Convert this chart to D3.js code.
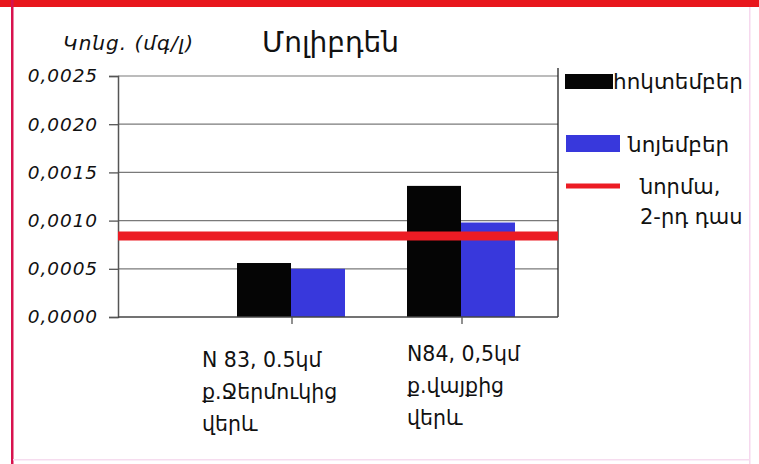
<!DOCTYPE html>
<html>
<head>
<meta charset="utf-8">
<script src="https://cdn.jsdelivr.net/npm/d3@7"></script>
<style>
  html, body { margin: 0; padding: 0; background: #fff; }
  svg { display: block; }
  text { font-family: "DejaVu Sans", sans-serif; fill: #111; }
</style>
</head>
<body>
<svg id="chart" width="759" height="464"></svg>
<script>
// Molybdenum concentration at two river monitoring points
const title = "Մոլիբդեն";
const yTitle = "Կոնց. (մգ/լ)";
const categories = ["N83", "N84"];
const categoryLabels = [
  ["N 83, 0.5կմ", "ք.Ջերմուկից", "վերև"],
  ["N84, 0,5կմ", "ք.վայքից", "վերև"]
];
const seriesNames = ["հոկտեմբեր", "նոյեմբեր"];
const october = [0.00056, 0.00136];
const november = [0.00050, 0.00098];
const norm = 0.00084;
const normLabel = ["նորմա,", "2-րդ դաս"];
const yTicks = [0, 0.0005, 0.0010, 0.0015, 0.0020, 0.0025];

const colors = { oct: "#050505", nov: "#3838dc", norm: "#ec1c24" };

const svg = d3.select("#chart");

// frame
svg.append("rect").attr("x", 0).attr("y", 0).attr("width", 759).attr("height", 7).attr("fill", "#e8161c");
svg.append("rect").attr("x", 11).attr("y", 0).attr("width", 2.5).attr("height", 464).attr("fill", "#d8124e");
svg.append("rect").attr("x", 749).attr("y", 7).attr("width", 1.5).attr("height", 457).attr("fill", "#f6d8ee");
svg.append("rect").attr("x", 13).attr("y", 459).attr("width", 737).attr("height", 1.5).attr("fill", "#f6dcef");

const plot = { left: 118, right: 558, top: 76, bottom: 317 };

const y = d3.scaleLinear().domain([0, 0.0025]).range([plot.bottom, plot.top]);
const x = d3.scaleBand().domain(categories).range([207, 547]);
const sub = d3.scaleBand().domain(["oct", "nov"]).range([x.bandwidth() / 2 - 55, x.bandwidth() / 2 + 53]);

// gridlines
svg.append("g").selectAll("line").data(yTicks.slice(1)).join("line")
  .attr("x1", plot.left).attr("x2", plot.right)
  .attr("y1", d => y(d)).attr("y2", d => y(d))
  .attr("stroke", "#7a7a7a").attr("stroke-width", 1.2);

// right plot edge
svg.append("line").attr("x1", plot.right).attr("x2", plot.right)
  .attr("y1", 68).attr("y2", plot.bottom).attr("stroke", "#222").attr("stroke-width", 1.3);

// y axis
const fmt = d => d3.format(".4f")(d).replace(".", ",");
const yAxis = svg.append("g").attr("transform", `translate(${plot.left},0)`)
  .call(d3.axisLeft(y).tickValues(yTicks).tickFormat(fmt).tickSize(9).tickPadding(11));
yAxis.select(".domain").attr("stroke", "#555").attr("stroke-width", 1.5);
yAxis.selectAll(".tick line").attr("stroke", "#555").attr("stroke-width", 1.3);
yAxis.selectAll(".tick text")
  .attr("font-family", "DejaVu Sans, sans-serif")
  .attr("font-style", "italic").attr("font-size", 18.5).attr("letter-spacing", 0.9)
  .attr("fill", "#1e1e1e");

// bars
const groups = svg.append("g").selectAll("g").data(categories).join("g")
  .attr("transform", d => `translate(${x(d)},0)`);
groups.append("rect")
  .attr("x", sub("oct")).attr("width", sub.bandwidth())
  .attr("y", (d, i) => y(october[i])).attr("height", (d, i) => plot.bottom - y(october[i]))
  .attr("fill", colors.oct);
groups.append("rect")
  .attr("x", sub("nov")).attr("width", sub.bandwidth())
  .attr("y", (d, i) => y(november[i])).attr("height", (d, i) => plot.bottom - y(november[i]))
  .attr("fill", colors.nov);

// x axis baseline and ticks
svg.append("line").attr("x1", plot.left).attr("x2", plot.right)
  .attr("y1", plot.bottom).attr("y2", plot.bottom).attr("stroke", "#444").attr("stroke-width", 1.4);
svg.append("g").selectAll("line").data(categories).join("line")
  .attr("x1", d => x(d) + x.bandwidth() / 2).attr("x2", d => x(d) + x.bandwidth() / 2)
  .attr("y1", plot.bottom).attr("y2", plot.bottom + 7)
  .attr("stroke", "#555").attr("stroke-width", 1.3);

// norm line
svg.append("line").attr("x1", plot.left).attr("x2", plot.right)
  .attr("y1", y(norm)).attr("y2", y(norm))
  .attr("stroke", colors.norm).attr("stroke-width", 9);

// category labels
const labelOffsets = [-90, -55];
const labelBase = [367, 361];
categoryLabels.forEach((lines, i) => {
  const t = svg.append("text").attr("font-size", 20.5).attr("fill", "#222");
  lines.forEach((s, j) => {
    t.append("tspan")
      .attr("x", x(categories[i]) + x.bandwidth() / 2 + labelOffsets[i])
      .attr("y", labelBase[i] + j * 32)
      .text(s);
  });
});

// titles
svg.append("text").attr("x", 262).attr("y", 52).attr("font-size", 28).attr("fill", "#111").text(title);
svg.append("text").attr("x", 63).attr("y", 50).attr("font-size", 20).attr("font-style", "italic")
  .attr("letter-spacing", 1).attr("fill", "#333").text(yTitle);

// legend
const lg = svg.append("g");
lg.append("rect").attr("x", 565).attr("y", 74).attr("width", 48).attr("height", 15).attr("fill", colors.oct);
lg.append("text").attr("x", 613).attr("y", 89).attr("font-size", 21.5).text(seriesNames[0]);
lg.append("rect").attr("x", 566).attr("y", 135).attr("width", 54).attr("height", 17).attr("fill", colors.nov);
lg.append("text").attr("x", 628).attr("y", 152).attr("font-size", 21.5).text(seriesNames[1]);
lg.append("line").attr("x1", 566).attr("x2", 620).attr("y1", 186).attr("y2", 186)
  .attr("stroke", colors.norm).attr("stroke-width", 5);
lg.append("text").attr("font-size", 21).selectAll("tspan").data(normLabel).join("tspan")
  .attr("x", 640).attr("y", (d, i) => 194 + i * 30).text(d => d);
</script>
</body>
</html>
